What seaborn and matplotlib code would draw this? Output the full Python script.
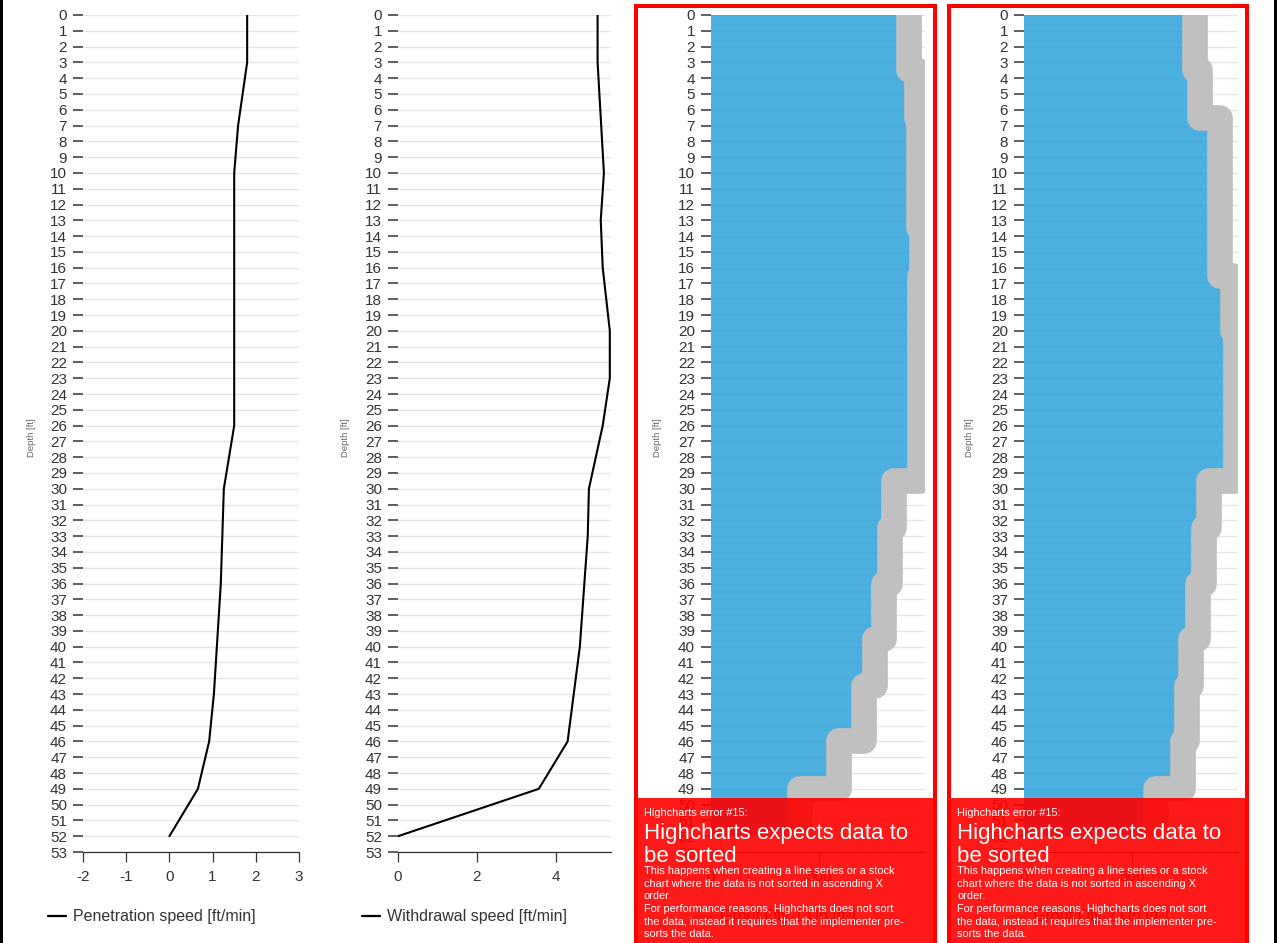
import matplotlib
matplotlib.use("Agg")
import matplotlib.pyplot as plt
from matplotlib.patches import Rectangle
from matplotlib.lines import Line2D
import seaborn as sns

# ---- data ----
depth_ticks = list(range(0, 54))

pen_depth = [0, 3, 7, 10, 26, 30, 36, 43, 46, 49, 52]
pen_speed = [1.8, 1.8, 1.59, 1.5, 1.5, 1.26, 1.19, 1.03, 0.92, 0.66, 0.0]

wd_depth = [0, 3, 10, 13, 16, 20, 23, 26, 30, 33, 40, 46, 49, 52]
wd_speed = [5.06, 5.06, 5.22, 5.14, 5.19, 5.37, 5.37, 5.19, 4.84, 4.81, 4.61, 4.30, 3.57, 0.0]

# grout qty: value holds from each break depth down to the next one
grout1_break = [0, 3.5, 6.5, 13.5, 16.5, 29.5, 32.5, 36, 39.5, 42.5, 46, 49, 52]
grout1_qty = [917, 955, 962, 975, 965, 847, 829, 799, 757, 708, 593, 410, 410]

grout2_break = [0, 3.5, 6.5, 16.5, 20, 29.5, 32.5, 36, 39.5, 42.5, 46, 49, 52]
grout2_qty = [789, 812, 905, 965, 979, 856, 833, 806, 773, 755, 734, 611, 611]

err_lines = [
    ("Highcharts error #15:", 813, 7.9),
    ("Highcharts expects data to", 833, 16),
    ("be sorted", 856, 16),
    ("This happens when creating a line series or a stock", 871, 7.9),
    ("chart where the data is not sorted in ascending X", 884, 7.9),
    ("order.", 896, 7.9),
    ("For performance reasons, Highcharts does not sort", 909, 7.9),
    ("the data, instead it requires that the implementer pre-", 922, 7.9),
    ("sorts the data.", 934, 7.9),
]

W, H = 1281, 943
TXT = "#333333"
FS = 11

sns.set_style("white")
plt.rcParams["font.family"] = ["Liberation Sans", "DejaVu Sans"]
plt.rcParams["axes.unicode_minus"] = False

fig = plt.figure(figsize=(W / 100, H / 100), dpi=100)


def add_ax(x0, x1):
    # pixel box -> figure fraction, plot area spans depth 0 (y=15) to 53 (y=852)
    return fig.add_axes([x0 / W, 1 - 852 / H, (x1 - x0) / W, (852 - 15) / H])


def style_ax(ax, xlim, xticks):
    ax.set_ylim(53, 0)
    ax.set_xlim(*xlim)
    ax.set_yticks(depth_ticks)
    ax.set_xticks(xticks)
    ax.set_xlabel("")
    ax.set_ylabel("")
    ax.set_axisbelow(True)
    ax.yaxis.grid(True, color="#e6e6e6", lw=1, zorder=0)
    ax.xaxis.grid(False)
    for s in ["left", "top", "right"]:
        ax.spines[s].set_visible(False)
    ax.spines["bottom"].set_color(TXT)
    ax.spines["bottom"].set_linewidth(0.9)
    ax.tick_params(axis="y", left=True, direction="out", length=7.5, width=1.1,
                   color=TXT, labelcolor=TXT, labelsize=FS, pad=4)
    ax.tick_params(axis="x", bottom=True, direction="out", length=7.2, width=0.9,
                   color=TXT, labelcolor=TXT, labelsize=FS, pad=6)


def legend_at(ax, handles, labels, x, y):
    ax.legend(handles, labels, loc="center left", bbox_to_anchor=(x / W, 1 - y / H),
              bbox_transform=fig.transFigure, frameon=False, fontsize=11.5,
              handlelength=1.1, handletextpad=0.45, borderpad=0, borderaxespad=0,
              labelcolor=TXT)


def ylabel_at(x):
    fig.text(x / W, 1 - 438 / H, "Depth [ft]", rotation=90, fontsize=6.8,
             color="#666666", ha="center", va="center")


# ---- panel 1: penetration speed ----
ax1 = add_ax(83, 299)
sns.lineplot(x=pen_speed, y=pen_depth, orient="y", color="black", lw=1.5,
             ax=ax1, legend=False)
style_ax(ax1, (-2, 3), [-2, -1, 0, 1, 2, 3])
legend_at(ax1, [Line2D([], [], color="black", lw=1.6)],
          ["Penetration speed [ft/min]"], 48, 917)
ylabel_at(32)

# ---- panel 2: withdrawal speed ----
ax2 = add_ax(398, 611)
sns.lineplot(x=wd_speed, y=wd_depth, orient="y", color="black", lw=1.5,
             ax=ax2, legend=False)
style_ax(ax2, (0, 5.4), [0, 2, 4])
legend_at(ax2, [Line2D([], [], color="black", lw=1.6)],
          ["Withdrawal speed [ft/min]"], 362, 917)
ylabel_at(345)


# ---- panels 3/4: grout quantity ----
def grout_panel(x0, x1, brk, qty, label, lab_x, leg_x):
    ax = add_ax(x0, x1)
    ax.fill_betweenx(brk, 0, qty, step="post", color="#2ba1db", alpha=0.85,
                     lw=0, zorder=2)
    sns.lineplot(x=qty, y=brk, orient="y", color="#c0c0c0", lw=18.5,
                 drawstyle="steps-pre", solid_joinstyle="round",
                 solid_capstyle="butt", ax=ax, legend=False, zorder=3)
    style_ax(ax, (0, 990), [0, 500])
    legend_at(ax, [Line2D([], [], color="#c0c0c0", lw=2)], [label], leg_x, 917)
    ylabel_at(lab_x)
    return ax


ax3 = grout_panel(711, 925, grout1_break, grout1_qty,
                  "Grout Qty 1 Up [ft\u00b3]", 657, 695)
ax4 = grout_panel(1024, 1238, grout2_break, grout2_qty,
                  "Grout Qty 2 Up [ft\u00b3]", 970, 1008)

# red frames, error overlays and page edges
for left, right in [(634, 937), (947, 1249)]:
    fig.add_artist(Rectangle(((left + 2) / W, -0.05), (right - left - 4) / W,
                             1.05 - 6 / H, transform=fig.transFigure,
                             fill=False, edgecolor="red", lw=2.9, zorder=5))
    fig.add_artist(Rectangle((left / W, 0), (right - left) / W, (H - 798) / H,
                             transform=fig.transFigure, facecolor="red",
                             edgecolor="none", alpha=0.9, zorder=10))
    for txt, y, size in err_lines:
        fig.text((left + 10) / W, 1 - y / H, txt, color="white", fontsize=size,
                 ha="left", va="center", zorder=11)

fig.add_artist(Rectangle((0, 0), 3 / W, 1, transform=fig.transFigure,
                         facecolor="black", edgecolor="none", zorder=12))
fig.add_artist(Rectangle((1274 / W, 0), 3 / W, 1, transform=fig.transFigure,
                         facecolor="black", edgecolor="none", zorder=12))

fig.savefig("out.png", dpi=100)
